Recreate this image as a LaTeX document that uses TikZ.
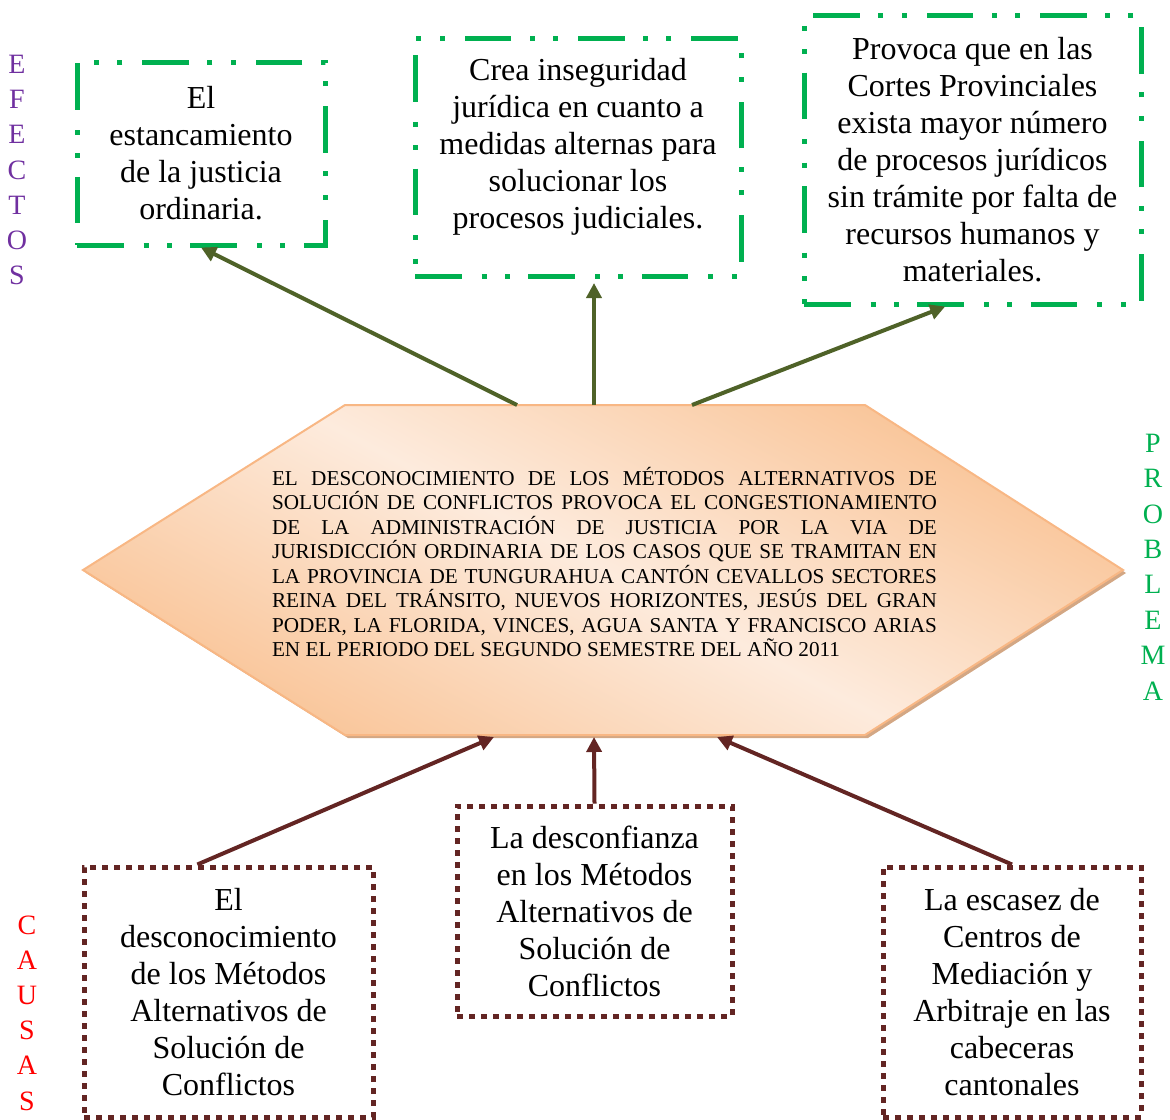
\documentclass[tikz,border=0pt]{standalone}
\usepackage{fontspec}
\setmainfont{Liberation Serif}
\usetikzlibrary{arrows.meta,calc}
\definecolor{verdeE}{HTML}{00B050}
\definecolor{olivo}{HTML}{4F6228}
\definecolor{cafe}{HTML}{632523}
\definecolor{morado}{HTML}{7030A0}
\definecolor{durazno}{HTML}{FDEBDD}
\definecolor{naranja}{HTML}{F9C497}
\definecolor{borde}{HTML}{F8B784}
\definecolor{sombra}{HTML}{D3A784}
\begin{document}
\begin{tikzpicture}[x=0.5pt,y=-0.5pt,
  efecto/.style={draw=verdeE,line width=2.5pt,dash pattern=on 23.3pt off 10pt on 2.5pt off 9.2pt on 2.5pt off 9.2pt,align=center,font=\fontsize{16}{18.5}\selectfont,inner sep=0pt},
  causa/.style={draw=cafe,line width=2.5pt,dash pattern=on 3pt off 3pt,align=center,font=\fontsize{16}{18.5}\selectfont,inner sep=0pt},
  flechaE/.style={draw=olivo,line width=2pt,-{Triangle[length=7.5pt,width=7.5pt]}},
  flechaC/.style={draw=cafe,line width=2pt,-{Triangle[length=7.5pt,width=7.5pt]}},
  letras/.style={align=center,inner sep=0pt,font=\fontsize{14}{17.6}\selectfont}]
\useasboundingbox (0,0) rectangle (1170,1119);
\coordinate (hw) at (83,570);
\coordinate (hnw) at (345,405);
\coordinate (hne) at (865,405);
\coordinate (he) at (1123,570);
\coordinate (hse) at (865,735);
\coordinate (hsw) at (345,735);
\fill[sombra] ([shift={(3,3)}]hw) -- ([shift={(3,3)}]hnw) -- ([shift={(3,3)}]hne) -- ([shift={(3,3)}]he) -- ([shift={(3,3)}]hse) -- ([shift={(3,3)}]hsw) -- cycle;
\path[draw=borde,line width=1pt,top color=naranja,bottom color=naranja,middle color=durazno,shading angle=-28] (hw) -- (hnw) -- (hne) -- (he) -- (hse) -- (hsw) -- cycle;
\node[inner sep=0pt] (prob) at (604.5,562) {\parbox{332.5pt}{\fontsize{10.6}{12.25}\selectfont
EL DESCONOCIMIENTO DE LOS MÉTODOS ALTERNATIVOS DE\linebreak
SOLUCIÓN DE CONFLICTOS PROVOCA EL CONGESTIONAMIENTO\linebreak
DE LA ADMINISTRACIÓN DE JUSTICIA POR LA VIA DE\linebreak
JURISDICCIÓN ORDINARIA DE LOS CASOS QUE SE TRAMITAN EN\linebreak
LA PROVINCIA DE TUNGURAHUA CANTÓN CEVALLOS SECTORES\linebreak
REINA DEL TRÁNSITO, NUEVOS HORIZONTES, JESÚS DEL GRAN\linebreak
PODER, LA FLORIDA, VINCES, AGUA SANTA Y FRANCISCO ARIAS\linebreak
EN EL PERIODO DEL SEGUNDO SEMESTRE DEL AÑO 2011}};
\node[efecto,minimum width=124pt,minimum height=91.5pt] (e1) at (201,153.5) {El\\estancamiento\\de la justicia\\ordinaria.};
\node[efecto,minimum width=163pt,minimum height=119pt] (e2) at (578,157) {Crea inseguridad\\jurídica en cuanto a\\medidas alternas para\\solucionar los\\procesos judiciales.\\[-5pt]\mbox{}};
\node[efecto,minimum width=168.5pt,minimum height=144.5pt] (e3) at (972.5,159.5) {Provoca que en las\\Cortes Provinciales\\exista mayor número\\de procesos jurídicos\\sin trámite por falta de\\recursos humanos y\\materiales.};
\node[causa,minimum width=144.5pt,minimum height=125pt] (c1) at (228.5,992) {El\\desconocimiento\\de los Métodos\\Alternativos de\\Solución de\\Conflictos};
\node[causa,minimum width=137.5pt,minimum height=105pt] (c2) at (594.5,911) {La desconfianza\\en los Métodos\\Alternativos de\\Solución de\\Conflictos};
\node[causa,minimum width=129pt,minimum height=125pt] (c3) at (1012,992) {La escasez de\\Centros de\\Mediación y\\Arbitraje en las\\cabeceras\\cantonales};
\node[letras,text=morado] (efectos) at (17,170) {E\\F\\E\\C\\T\\O\\S};
\node[letras,text=verdeE,font=\fontsize{14}{17.7}\selectfont] (problema) at (1153,567) {P\\R\\O\\B\\L\\E\\M\\A};
\node[letras,text=red] (causas) at (27,1013) {C\\A\\U\\S\\A\\S};
\coordinate (s1) at (517,405);
\coordinate (s2) at (594,405);
\coordinate (s3) at (692,405);
\coordinate (t1) at (494,737);
\coordinate (t2) at (594,737);
\coordinate (t3) at (717,737);
\draw[flechaE] (s1) -- (e1.south);
\draw[flechaE,shorten >=2.25pt] (s2) -- (s2 |- e2.south);
\draw[flechaE] (s3) -- ($(e3.south west)!.42!(e3.south east)$);
\draw[flechaC] ($(c1.north west)!.394!(c1.north east)$) -- (t1);
\draw[flechaC] (c2.north) -- (t2);
\draw[flechaC] (c3.north) -- (t3);
\end{tikzpicture}
\end{document}
